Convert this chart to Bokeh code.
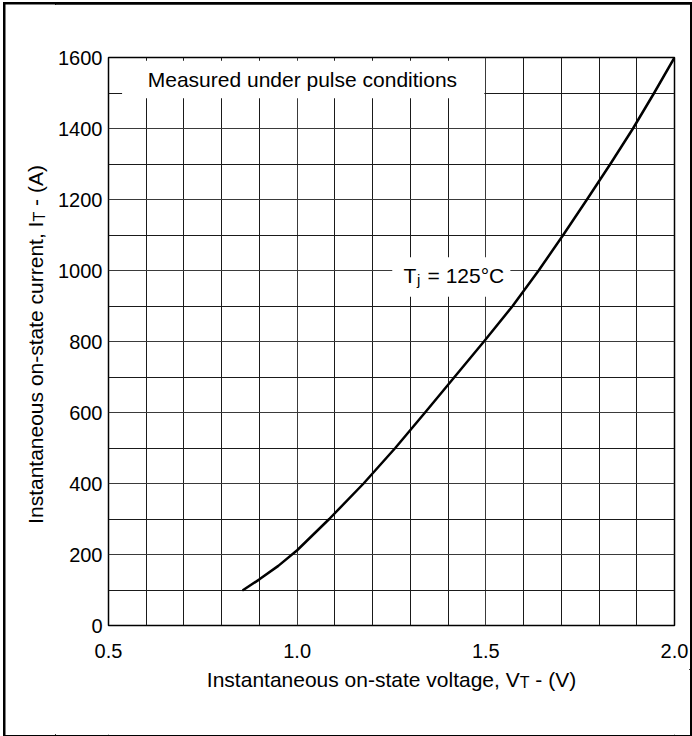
import math
from bokeh.plotting import figure
from bokeh.layouts import row, column
from bokeh.models import Range1d, FixedTicker, Label
from bokeh.embed import file_html
from bokeh.resources import INLINE

# ---- data ----
voltage = [0.857, 0.9, 0.95, 1.0, 1.085, 1.176, 1.26, 1.339, 1.417, 1.495,
           1.571, 1.640, 1.705, 1.768, 1.830, 1.890, 1.946, 2.0]
current = [100, 130, 168, 212, 300, 400, 500, 600, 700, 800,
           900, 1000, 1100, 1200, 1300, 1400, 1500, 1600]
x_ticks = [0.5, 1.0, 1.5, 2.0]
x_minor = [0.6, 0.7, 0.8, 0.9, 1.1, 1.2, 1.3, 1.4, 1.6, 1.7, 1.8, 1.9]
y_ticks = [0, 200, 400, 600, 800, 1000, 1200, 1400, 1600]
y_minor = [100, 300, 500, 700, 900, 1100, 1300, 1500]
x_label = ["Instantaneous on-state voltage, V", "T", " - (V)"]
y_label = ["Instantaneous on-state current, I", "T", " - (A)"]
note_text = "Measured under pulse conditions"
tj_text = ["T", "j", " = 125°C"]

FONT = "Liberation Sans"

# white background boxes behind the two in-plot notes (layout, not data)
NOTE_BOX = dict(left=0.536, right=1.496, bottom=1485, top=1591)
TJ_BOX = dict(left=1.252, right=1.565, bottom=926, top=1037)

# approximate Arial/Liberation Sans advance widths (per 1000 em)
W = {' ': 278, '(': 333, ')': 333, ',': 278, '-': 333, '.': 278, '=': 584,
     '°': 400, 'A': 667, 'C': 722, 'I': 278, 'M': 833, 'T': 611, 'V': 667,
     'a': 556, 'b': 556, 'c': 500, 'd': 556, 'e': 556, 'f': 278, 'g': 556,
     'h': 556, 'i': 222, 'j': 222, 'k': 500, 'l': 222, 'm': 833, 'n': 556,
     'o': 556, 'p': 556, 'q': 556, 'r': 333, 's': 500, 't': 278, 'u': 556,
     'v': 500, 'w': 722, 'x': 500, 'y': 500, 'z': 500}

LIFT = 8.5   # rendered alphabetic baseline sits lower than the anchor


def tw(s, size):
    return sum(W.get(c, 556) for c in s) * size / 1000.0


def pieces(parts, sizes):
    """(text without leading spaces, size, advance before it)"""
    out = []
    cum = 0.0
    for t, s in zip(parts, sizes):
        stripped = t.lstrip(" ")
        lead = tw(t[:len(t) - len(stripped)], s)
        out.append((stripped, s, cum + lead))
        cum += tw(t, s)
    return out, cum


# ---------------- main chart ----------------
YW = 50                       # width of the y-title strip
MW, MH = 635, 665
ML, MR, MT, MB = 53, 16, 53, 44
XH = 731 - MH                 # height of the x-title strip

fig = figure(width=MW, height=MH, output_backend="svg", toolbar_location=None,
             x_range=Range1d(0.5, 2.0), y_range=Range1d(0, 1600),
             min_border_left=ML, min_border_right=MR, min_border_top=MT,
             min_border_bottom=MB)
fig.background_fill_color = "white"
fig.border_fill_color = "white"
fig.outline_line_color = "black"
fig.outline_line_width = 1.5

fig.xaxis.ticker = FixedTicker(ticks=x_ticks, minor_ticks=x_minor)
fig.yaxis.ticker = FixedTicker(ticks=y_ticks, minor_ticks=y_minor)
fig.xaxis.major_label_overrides = {v: f"{v:.1f}" for v in x_ticks}
for ax in (fig.xaxis, fig.yaxis):
    ax.axis_line_color = None
    ax.major_tick_line_color = None
    ax.minor_tick_line_color = None
    ax.major_tick_out = 0
    ax.major_tick_in = 0
    ax.minor_tick_out = 0
    ax.minor_tick_in = 0
    ax.major_label_text_font = FONT
    ax.major_label_text_font_size = "20px"
    ax.major_label_text_color = "black"
fig.xaxis.major_label_standoff = 18
fig.yaxis.major_label_standoff = 6

for g in (fig.xgrid, fig.ygrid):
    g.grid_line_color = "#3a3a3a"
    g.grid_line_width = 1
    g.minor_grid_line_color = "#1a1a1a"
    g.minor_grid_line_width = 1

for box in (NOTE_BOX, TJ_BOX):
    fig.quad(left=[box["left"]], right=[box["right"]], bottom=[box["bottom"]],
             top=[box["top"]], fill_color="white", line_color=None)

fig.line(voltage, current, line_color="black", line_width=2.5,
         line_join="round", line_cap="round")

fig.add_layout(Label(x=0.604, y=1515, y_offset=LIFT, text=note_text,
                     text_font=FONT, text_font_size="21px",
                     text_baseline="alphabetic", text_color="black"))
parts, _ = pieces(tj_text, [21, 15, 21])
for (t, s, off), dy, extra in zip(parts, [0, -4, 0], [0, 0.6, 2.0]):
    fig.add_layout(Label(x=1.282, y=962, x_offset=off + extra,
                         y_offset=dy + LIFT, text=t, text_font=FONT,
                         text_font_size=f"{s}px", text_baseline="alphabetic",
                         text_color="black"))


def strip_fig(w, h):
    f = figure(width=w, height=h, output_backend="svg", toolbar_location=None,
               x_range=Range1d(0, w), y_range=Range1d(0, h),
               x_axis_location=None, y_axis_location=None,
               min_border=0, min_border_left=0, min_border_right=0,
               min_border_top=0, min_border_bottom=0)
    f.grid.visible = False
    f.outline_line_color = None
    f.background_fill_color = "white"
    f.border_fill_color = "white"
    return f


# ---------------- x title strip (canvas px, y from top) ----------------
xf = strip_fig(MW, XH)
cx = ML + (MW - ML - MR) / 2.0
parts, tot = pieces(x_label, [21, 16, 21])
for (t, s, off), dy in zip(parts, [0, 3, 0]):
    xf.add_layout(Label(x=cx - tot / 2 + off, y=18 + dy - LIFT,
                        x_units="canvas", y_units="canvas", text=t,
                        text_font=FONT, text_font_size=f"{s}px",
                        text_baseline="alphabetic", text_color="black"))

# ---------------- y title strip (canvas px, y from top) ----------------
yf = strip_fig(YW, 731)
cy = MT + (MH - MT - MB) / 2.0 + 3
parts, tot = pieces(y_label, [21, 16, 21])
for (t, s, off), dx in zip(parts, [0, 4, 0]):
    yf.add_layout(Label(x=38 + dx - LIFT, y=cy + tot / 2 - off,
                        x_units="canvas", y_units="canvas", text=t,
                        angle=math.pi / 2, text_font=FONT,
                        text_font_size=f"{s}px", text_baseline="alphabetic",
                        text_color="black"))

p = row(yf, column(fig, xf, spacing=0), spacing=0)
p.styles = {"outline": "3px solid black", "outline-offset": "-1px",
            "margin-left": "5px", "margin-top": "4px"}

open("out.html", "w").write(file_html(p, INLINE))
